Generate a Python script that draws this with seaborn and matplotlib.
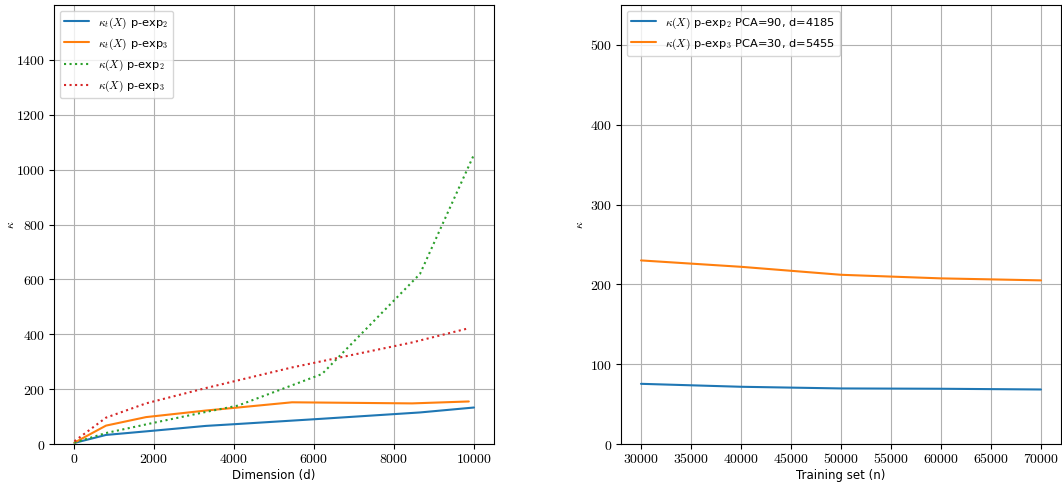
import numpy as np
import pandas as pd
import matplotlib
matplotlib.use("Agg")
import matplotlib.pyplot as plt
from matplotlib.ticker import FuncFormatter
import seaborn as sns

# ---- data ----
dims_exp2 = [10, 800, 1950, 3300, 4100, 6200, 8650, 10000]
kt_exp2 = [4, 33, 48, 66, 73, 92, 115, 133]
k_exp2 = [5, 40, 76, 117, 140, 255, 620, 1055]

dims_exp3 = [10, 800, 1800, 3300, 4100, 5450, 8450, 9870]
kt_exp3 = [5, 67, 98, 122, 133, 152, 148, 155]
k_exp3 = [10, 96, 148, 204, 232, 279, 370, 422]

train_n = [30000, 40000, 50000, 60000, 70000]
k_pca_exp2 = [75.4, 71.7, 69.6, 69.2, 68.3]
k_pca_exp3 = [230, 222, 212, 207.5, 205]

left_labels = [r"$\kappa_t(X)$ p-exp$_2$", r"$\kappa_t(X)$ p-exp$_3$",
               r"$\kappa(X)$ p-exp$_2$", r"$\kappa(X)$ p-exp$_3$"]
right_labels = [r"$\kappa(X)$ p-exp$_2$ PCA=90, d=4185",
                r"$\kappa(X)$ p-exp$_3$ PCA=30, d=5455"]

sns.set_style("ticks", {"axes.grid": True, "grid.color": "#b0b0b0",
                        "axes.edgecolor": "black", "xtick.color": "black",
                        "ytick.color": "black", "axes.labelcolor": "black",
                        "text.color": "black"})
plt.rcParams["font.family"] = ["DejaVu Sans"]
plt.rcParams["mathtext.fontset"] = "cm"
plt.rcParams["grid.linewidth"] = 0.8
plt.rcParams["axes.linewidth"] = 0.8

fig = plt.figure(figsize=(10.62, 4.83), dpi=100)
W, H = 1062, 483
ax1 = fig.add_axes([54 / W, 39 / H, 440 / W, 439 / H])
ax2 = fig.add_axes([621 / W, 39 / H, 440 / W, 439 / H])

pal = sns.color_palette("tab10")
sns.lineplot(x=dims_exp2, y=kt_exp2, ax=ax1, color=pal[0], label=left_labels[0], lw=1.5)
sns.lineplot(x=dims_exp3, y=kt_exp3, ax=ax1, color=pal[1], label=left_labels[1], lw=1.5)
sns.lineplot(x=dims_exp2, y=k_exp2, ax=ax1, color=pal[2], label=left_labels[2], lw=1.5, linestyle=":")
sns.lineplot(x=dims_exp3, y=k_exp3, ax=ax1, color=pal[3], label=left_labels[3], lw=1.5, linestyle=":")

sns.lineplot(x=train_n, y=k_pca_exp2, ax=ax2, color=pal[0], label=right_labels[0], lw=1.5)
sns.lineplot(x=train_n, y=k_pca_exp3, ax=ax2, color=pal[1], label=right_labels[1], lw=1.5)

ax1.set_xlim(-500, 10500)
ax1.set_ylim(0, 1600)
ax1.set_xticks([0, 2000, 4000, 6000, 8000, 10000])
ax1.set_yticks([0, 200, 400, 600, 800, 1000, 1200, 1400])
ax2.set_xlim(28000, 72000)
ax2.set_ylim(0, 550)
ax2.set_xticks(list(range(30000, 70001, 5000)))
ax2.set_yticks([0, 100, 200, 300, 400, 500])

fmt = FuncFormatter(lambda v, p: f"${v:.0f}$")
for ax, xl, ylx in ((ax1, "Dimension (d)", -0.085), (ax2, "Training set (n)", -0.08)):
    ax.xaxis.set_major_formatter(fmt)
    ax.yaxis.set_major_formatter(fmt)
    ax.tick_params(labelsize=10, direction="out", length=3.5, width=0.8, pad=2.5)
    ax.set_xlabel(xl, fontsize=8.5, labelpad=2)
    ax.set_ylabel(r"$\kappa$", fontsize=8.5)
    ax.yaxis.set_label_coords(ylx, 0.5)
    ax.grid(True, color="#b0b0b0", lw=0.8)
    for s in ax.spines.values():
        s.set_visible(True)
        s.set_color("black")
    ax.legend(loc="upper left", fontsize=8.2, frameon=True, framealpha=0.8,
              edgecolor="#cccccc", fancybox=True, handlelength=2.2)

fig.savefig("out.png", dpi=100)
